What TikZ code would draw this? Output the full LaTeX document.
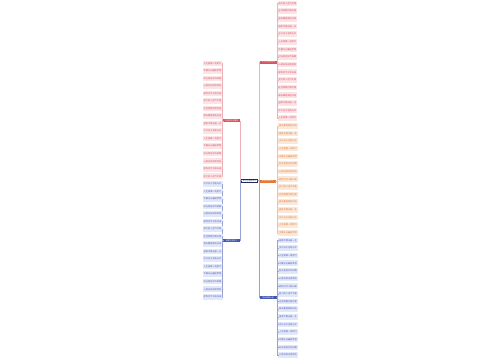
\documentclass[tikz,border=0pt]{standalone}
\usepackage{fontspec}
\newfontfamily\cjk{Noto Sans CJK SC}
\definecolor{cRed}{HTML}{D9525F}
\definecolor{cOrg}{HTML}{E8782F}
\definecolor{cBlu}{HTML}{4257B2}
\definecolor{cNav}{HTML}{1F2A5C}
\definecolor{fRed}{HTML}{FBE3E6}
\definecolor{fOrg}{HTML}{FCE8D9}
\definecolor{fBlu}{HTML}{E3E8F9}
\definecolor{tRed}{HTML}{D2505C}
\definecolor{tOrg}{HTML}{D97A3C}
\definecolor{tBlu}{HTML}{4A5DB8}
\newcommand\phr[1]{\ifcase#1 人生就像一场旅行\or 不要忘记最初梦想\or 时光匆匆岁月如歌\or 心若向阳无畏悲伤\or 愿你历尽千帆归来\or 努力的人运气不差\or 生活明朗万物可爱\or 每天都是新的开始\or 温柔半两从容一生\or 平凡日子也有光芒\fi}
\begin{document}
\begin{tikzpicture}[x=1pt,y=-1pt,
  every node/.style={inner sep=0pt,outer sep=0pt,font=\cjk\fontsize{2.2}{2.6}\selectfont},
  leafR/.style={fill=fRed,text=tRed,minimum width=19pt,minimum height=5.6pt},
  leafO/.style={fill=fOrg,text=tOrg,minimum width=20pt,minimum height=5.6pt},
  leafB/.style={fill=fBlu,text=tBlu,minimum width=20pt,minimum height=5.6pt},
  brR/.style={fill=cRed,text=white,minimum width=17pt,minimum height=3pt,font=\cjk\fontsize{1.9}{2}\selectfont},
  brO/.style={fill=cOrg,text=white,minimum width=16pt,minimum height=3pt,font=\cjk\fontsize{1.9}{2}\selectfont},
  brB/.style={fill=cBlu,text=white,minimum width=17pt,minimum height=3pt,font=\cjk\fontsize{1.9}{2}\selectfont},
  root/.style={draw=cNav,line width=0.8pt,fill=white,text=cNav,minimum width=16pt,minimum height=3pt,font=\cjk\fontsize{1.9}{2}\selectfont},
  lnR/.style={draw=cRed!45,line width=0.4pt},
  lnO/.style={draw=cOrg!45,line width=0.4pt},
  lnB/.style={draw=cBlu!55,line width=0.4pt}]
\useasboundingbox[fill=white] (0,0) rectangle (500,360);
% root
\node[root] (c) at (249.5,180.5) {关于生活的句子};
% branches
\node[brR] (bL1) at (231.5,120.7) {生活的句子摘抄};
\node[brB] (bL2) at (231.5,240.5) {经典生活句子};
\node[brR] (bR1) at (268.5,62) {关于生活的短句};
\node[brO] (bR2) at (267.5,181) {生活感悟句子};
\node[brB] (bR3) at (268,297.5) {生活语录大全};
% root connectors
\draw[lnR] (c.west) -- (240.3,180.5) |- (bL1.east);
\draw[lnB] (c.west) -- (240.3,180.5) |- (bL2.east);
\draw[lnR] (c.east) -- (259,180.5) |- (bR1.west);
\draw[lnO] (c.east) -- (bR2.west);
\draw[lnB] (c.east) -- (259,180.5) |- (bR3.west);
% left leaves
\foreach \i in {0,...,15}{
  \pgfmathsetmacro\yy{63.3+\i*7.53}
  \pgfmathtruncatemacro\k{mod(\i,10)}
  \node[leafR] (l\i) at (212.5,\yy) {\phr{\k}};
  \draw[lnR] (bL1.west) -- (222.6,120.7) |- (l\i.east);
}
\foreach \i in {16,...,31}{
  \pgfmathsetmacro\yy{63.3+\i*7.53}
  \pgfmathtruncatemacro\k{mod(\i+3,10)}
  \node[leafB] (l\i) at (212.5,\yy) {\phr{\k}};
  \draw[lnB] (bL2.west) -- (222.6,240.5) |- (l\i.east);
}
% right leaves
\foreach \i in {0,...,15}{
  \pgfmathsetmacro\yy{3.5+\i*7.64}
  \pgfmathtruncatemacro\k{mod(\i+5,10)}
  \node[leafR] (r\i) at (287.5,\yy) {\phr{\k}};
  \draw[lnR] (bR1.east) -- (277.5,62) |- (r\i.west);
}
\foreach \i in {16,...,30}{
  \pgfmathsetmacro\yy{3.5+\i*7.64}
  \pgfmathtruncatemacro\k{mod(\i+1,10)}
  \node[leafO] (r\i) at (288,\yy) {\phr{\k}};
  \draw[lnO] (bR2.east) -- (277.5,181) |- (r\i.west);
}
\foreach \i in {31,...,46}{
  \pgfmathsetmacro\yy{3.5+\i*7.64}
  \pgfmathtruncatemacro\k{mod(\i+7,10)}
  \node[leafB] (r\i) at (288,\yy) {\phr{\k}};
  \draw[lnB] (bR3.east) -- (277.5,297.5) |- (r\i.west);
}
\end{tikzpicture}
\end{document}
